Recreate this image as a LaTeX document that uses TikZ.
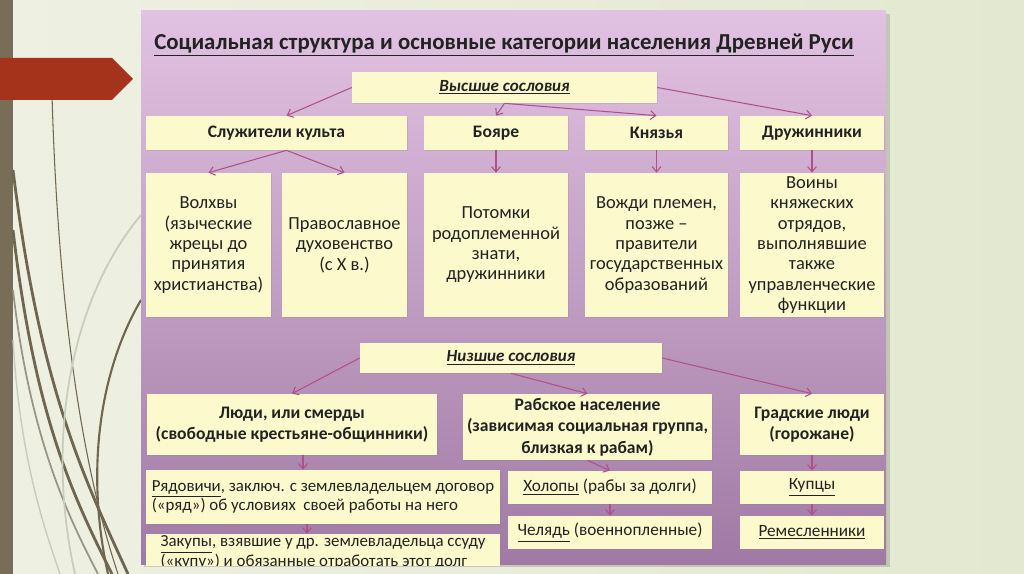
\documentclass[tikz,border=0pt]{standalone}
\usepackage{fontspec}
\setmainfont{Carlito}
\usetikzlibrary{arrows.meta, calc, shadows}

\definecolor{bgA}{HTML}{EEF0E2}
\definecolor{bgB}{HTML}{E3E9D0}
\definecolor{barcol}{HTML}{786D56}
\definecolor{redarr}{HTML}{A5321B}
\definecolor{olivecol}{HTML}{6E6650}
\definecolor{lightcurve}{HTML}{C9CBBC}
\definecolor{panTop}{HTML}{E2C2E3}
\definecolor{panMid}{HTML}{C4A0C6}
\definecolor{panBot}{HTML}{A07AA4}
\definecolor{boxcol}{HTML}{FCF9CD}
\definecolor{arrcol}{HTML}{B0508A}
\definecolor{txtcol}{HTML}{222222}

\begin{document}
\begin{tikzpicture}[x=0.02cm, y=-0.02cm,
    >={Straight Barb[length=3pt,width=5pt]},
    box/.style={fill=boxcol, inner sep=1pt, align=center, text=txtcol,
      font=\fontsize{10.5}{11.6}\selectfont,
      drop shadow={opacity=0.2, shadow xshift=0.6pt, shadow yshift=-0.6pt}},
    smallbox/.style={box, font=\fontsize{9.8}{12}\selectfont},
    boldbox/.style={box, font=\bfseries\fontsize{10}{12.2}\selectfont},
    headbox/.style={box, font=\bfseries\itshape\fontsize{9.7}{12}\selectfont},
    leftbox/.style={box, align=left, font=\fontsize{9.6}{11.2}\selectfont},
    freccia/.style={->, draw=arrcol, line width=0.6pt}]
    \useasboundingbox (0,0) rectangle (1024,574);

    % sfondo
    \shade[left color=bgA, right color=bgB] (0,0) rectangle (1024,574);
    \fill[barcol] (0,0) rectangle (13,574);

    % linee decorative
    \draw[olivecol, line width=0.6pt] (52,95) .. controls (58,300) and (80,460) .. (118,574);
    \draw[olivecol, line width=1.6pt] (13,170) .. controls (40,390) and (85,480) .. (128,574);
    \draw[olivecol, line width=1.6pt] (13,230) .. controls (35,420) and (75,500) .. (112,574);
    \draw[olivecol!70, line width=1pt] (13,290) .. controls (30,440) and (70,520) .. (98,574);
    \draw[lightcurve, line width=1pt] (141,215) .. controls (70,300) and (45,440) .. (75,574);
    \draw[olivecol, line width=1.2pt] (141,300) .. controls (100,370) and (85,470) .. (108,574);
    \draw[lightcurve, line width=0.8pt] (13,340) .. controls (20,460) and (45,530) .. (60,574);

    % freccia rossa
    \fill[redarr] (0,58) -- (112,58) -- (133,79) -- (112,100) -- (0,100) -- cycle;

    % pannello
    \fill[black, opacity=0.15] (144,14) rectangle (890,567);
    \shade[top color=panTop, middle color=panMid, bottom color=panBot] (141,11) rectangle (886,564);

    \begin{scope}
    \clip (141,11) rectangle (886,565);

    % titolo
    \node[font=\bfseries\fontsize{13}{15}\selectfont, text=txtcol] (titolo) at (504,45)
      {\underline{Социальная структура и основные категории населения Древней Руси}};

    % sopra
    \node[headbox, minimum width=6.10cm, minimum height=0.62cm] (vys) at (504.5,87.5) {\underline{Высшие сословия}};
    \node[boldbox, minimum width=5.22cm, minimum height=0.68cm] (sluzh) at (276.5,133) {Служители культа};
    \node[boldbox, minimum width=2.88cm, minimum height=0.68cm] (boyare) at (496,133) {Бояре};
    \node[boldbox, minimum width=2.86cm, minimum height=0.68cm] (knyaz) at (656.5,133) {Князья};
    \node[boldbox, minimum width=2.88cm, minimum height=0.68cm] (druzh) at (812,133) {Дружинники};

    \node[box, minimum width=2.50cm, minimum height=2.88cm] (volhv) at (208.5,245)
      {Волхвы\\(языческие\\жрецы до\\принятия\\христианства)};
    \node[box, minimum width=2.50cm, minimum height=2.88cm] (prav) at (344.5,245)
      {Православное\\духовенство\\(с X в.)};
    \node[box, minimum width=2.88cm, minimum height=2.88cm] (potom) at (496,245)
      {Потомки\\родоплеменной\\знати,\\дружинники};
    \node[box, minimum width=2.86cm, minimum height=2.88cm] (vozhd) at (656.5,245)
      {Вожди племен,\\позже –\\правители\\государственных\\образований};
    \node[box, minimum width=2.88cm, minimum height=2.88cm] (voin) at (812,245)
      {Воины\\княжеских\\отрядов,\\выполнявшие\\также\\управленческие\\функции};

    % sotto
    \node[headbox, minimum width=6.04cm, minimum height=0.60cm] (nizsh) at (511,358) {\underline{Низшие сословия}};
    \node[boldbox, minimum width=5.80cm, minimum height=1.22cm] (lyudi) at (292,424.5)
      {Люди, или смерды\\(свободные крестьяне-общинники)};
    \node[boldbox, minimum width=4.98cm, minimum height=1.32cm] (rab) at (587.5,427)
      {Рабское население\\(зависимая социальная группа,\\близкая к рабам)};
    \node[boldbox, minimum width=2.88cm, minimum height=1.22cm] (grad) at (812,424.5)
      {Градские люди\\(горожане)};

    \node[leftbox, minimum width=7.08cm, minimum height=1.08cm] (ryad) at (323,497)
      {\underline{Рядовичи}, заключ. с землевладельцем договор\\(«ряд») об условиях\ \ своей работы на него};
    \node[leftbox, minimum width=7.08cm, minimum height=0.70cm] (zakup) at (323,552.5)
      {\underline{Закупы}, взявшие у др. землевладельца ссуду\\(«купу») и обязанные отработать этот долг};
    \node[smallbox, minimum width=4.08cm, minimum height=0.66cm] (holop) at (610,487.5) {\underline{Холопы} (рабы за долги)};
    \node[smallbox, minimum width=4.08cm, minimum height=0.66cm] (chel) at (610,532.5) {\underline{Челядь} (военнопленные)};
    \node[smallbox, minimum width=2.88cm, minimum height=0.66cm] (kupc) at (812,487.5) {\underline{Купцы}};
    \node[smallbox, minimum width=2.88cm, minimum height=0.66cm] (remes) at (812,532.5) {\underline{Ремесленники}};

    % frecce
    \draw[freccia] (vys.west) -- ([xshift=0.2cm]sluzh.north);
    \draw[freccia] (vys.south) -- (boyare.north);
    \draw[freccia] (vys.south) -- (knyaz.north);
    \draw[freccia] (vys.east) -- (druzh.north);
    \draw[freccia] ([xshift=0.2cm]sluzh.south) -- (volhv.north);
    \draw[freccia] ([xshift=0.2cm]sluzh.south) -- (prav.north);
    \draw[freccia] (boyare.south) -- (potom.north);
    \draw[freccia] (knyaz.south) -- (vozhd.north);
    \draw[freccia] (druzh.south) -- (voin.north);

    \draw[freccia] (nizsh.west) -- (lyudi.north);
    \draw[freccia] (nizsh.south) -- (rab.north);
    \draw[freccia] (nizsh.east) -- (grad.north);
    \draw[freccia] ([xshift=0.22cm]lyudi.south) -- ([xshift=0.22cm]lyudi.south |- ryad.north);
    \draw[freccia] ([xshift=-0.32cm]ryad.south) -- ([xshift=-0.32cm]ryad.south |- zakup.north);
    \draw[freccia] (rab.south) -- (holop.north);
    \draw[freccia] (holop.south) -- (chel.north);
    \draw[freccia] (grad.south) -- (kupc.north);
    \draw[freccia] (kupc.south) -- (remes.north);
    \end{scope}
\end{tikzpicture}
\end{document}
